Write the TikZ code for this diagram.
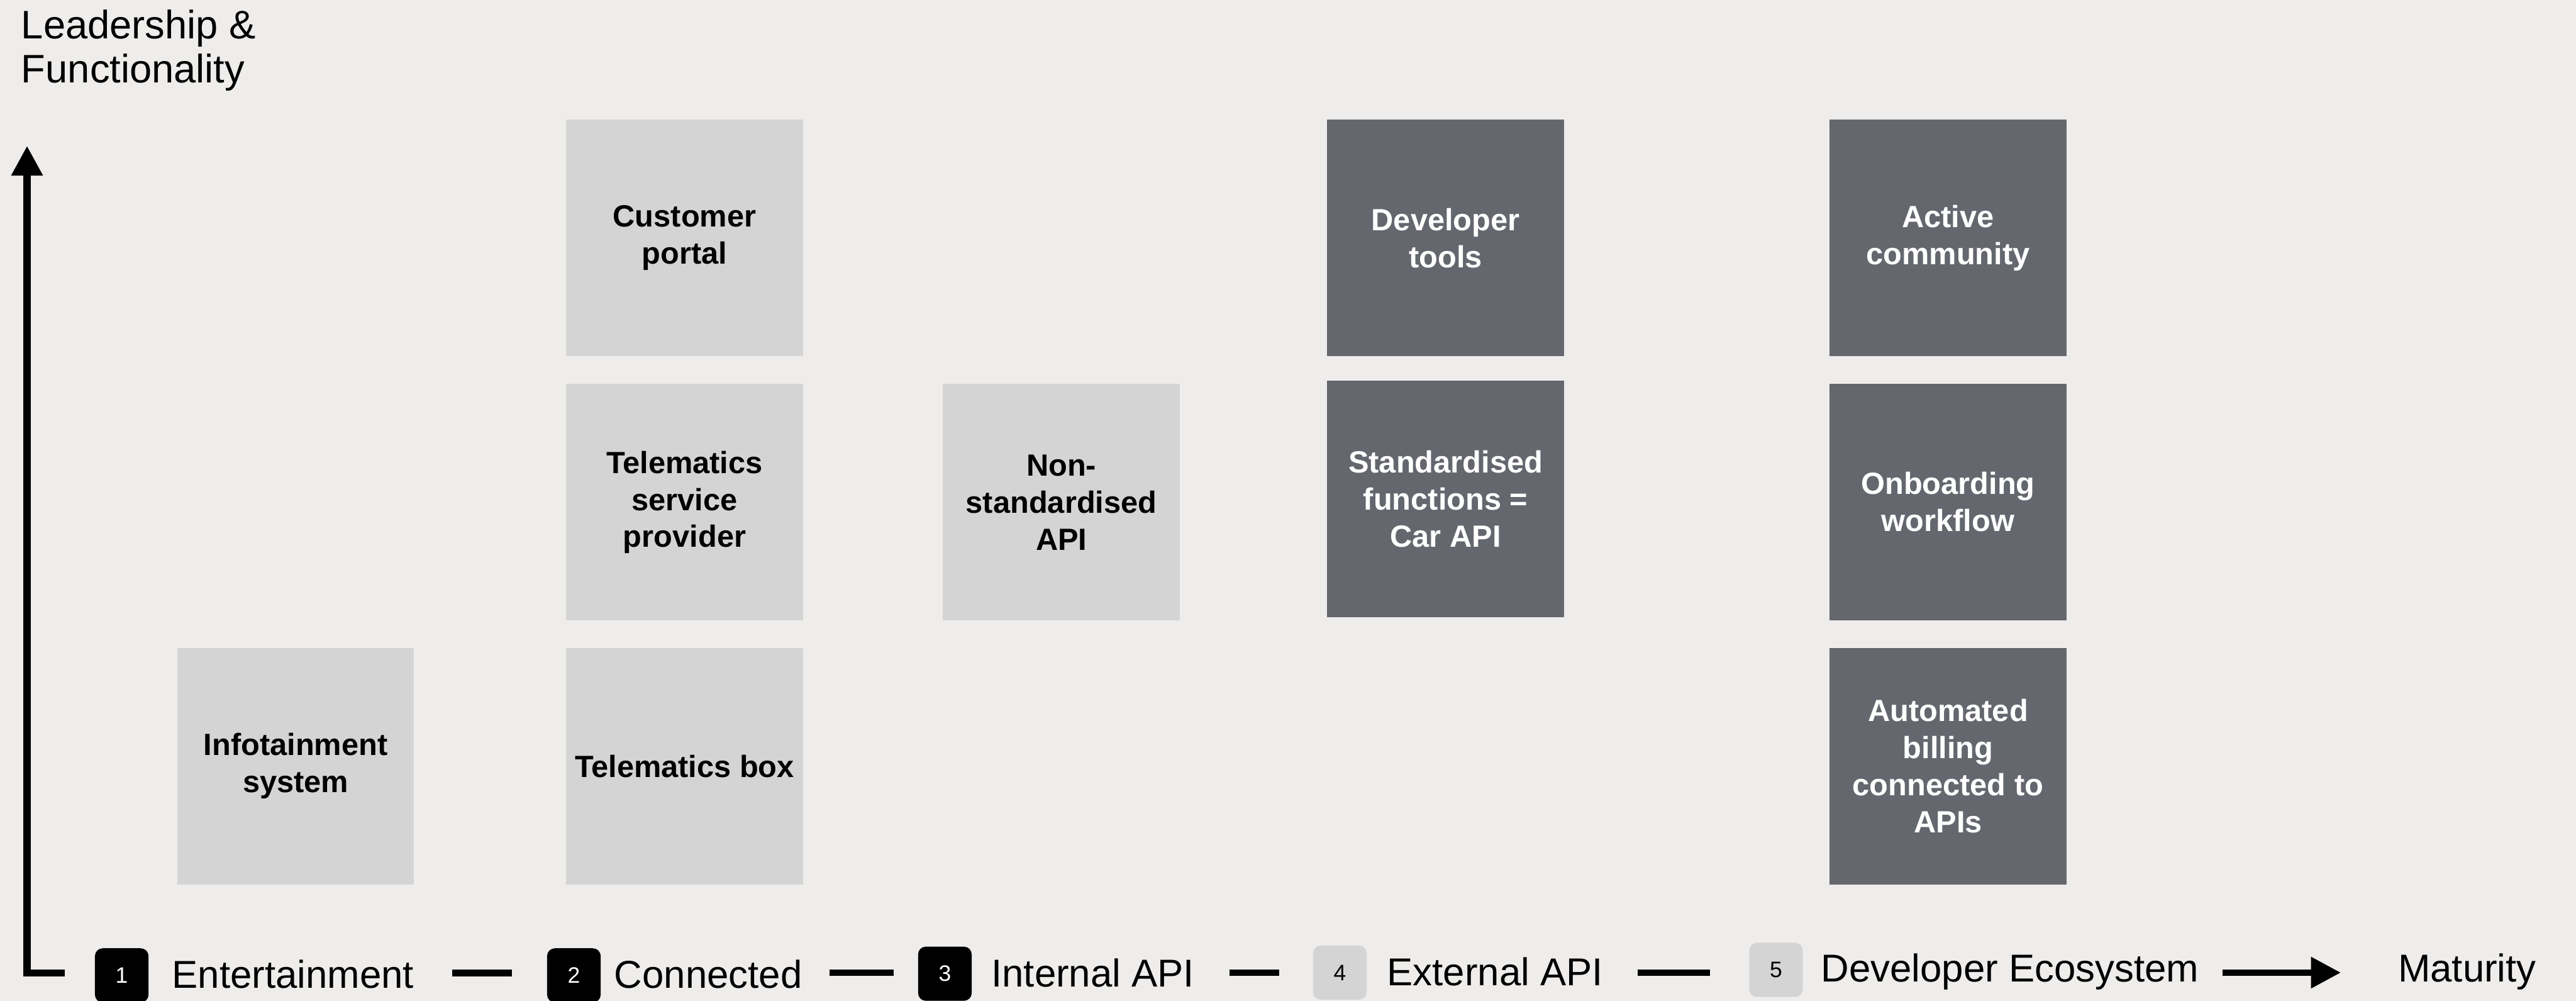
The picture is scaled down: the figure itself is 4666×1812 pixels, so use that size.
\documentclass[tikz,border=0pt]{standalone}
\usepackage{fontspec}
\setmainfont{Liberation Sans}
\usetikzlibrary{arrows.meta}
\definecolor{bg}{HTML}{EEEDEB}
\definecolor{lightbox}{HTML}{D4D4D4}
\definecolor{darkbox}{HTML}{64676E}
\begin{document}
\begin{tikzpicture}[x=0.01cm,y=-0.01cm,
  card/.style={minimum width=4.29cm, minimum height=4.28cm, inner sep=0pt, align=center, font=\fontsize{15.8}{19.1}\selectfont\bfseries},
  lightcard/.style={card, fill=lightbox, text=black},
  darkcard/.style={card, fill=darkbox, text=white},
  stagenum/.style={minimum width=0.97cm, minimum height=0.98cm, inner sep=0pt, rounded corners=0.14cm, font=\fontsize{11.5}{12}\selectfont},
  donenum/.style={stagenum, fill=black, text=white},
  todonum/.style={stagenum, fill=lightbox, text=black},
  stagelbl/.style={anchor=base west, inner sep=0pt, font=\fontsize{20}{24}\selectfont},
  axisline/.style={line width=0.13cm, line join=miter},
  seg/.style={line width=0.12cm},
  tip/.style={-{Triangle[width=0.54cm,length=0.54cm]}},
]
\fill[bg] (0,0) rectangle (4666,1812);
\useasboundingbox (0,0) rectangle (4666,1812);

% axis label
\node[anchor=north west, inner sep=0pt, align=left, font=\fontsize{20.5}{22.8}\selectfont] (ylabel) at (38,17) {Leadership \&\\Functionality};

% cards
\node[lightcard] (info) at (535.5,1387) {Infotainment\\system};
\node[lightcard] (tbox) at (1240,1387) {Telematics box};
\node[lightcard] (tsp) at (1240,909.5) {Telematics\\service\\provider};
\node[lightcard] (cport) at (1240,431) {Customer\\portal};
\node[lightcard] (nonstd) at (1922.5,909.5) {Non-\\standardised\\API};
\node[darkcard] (devtools) at (2618.5,431) {Developer\\tools};
\node[darkcard] (stdfn) at (2618.5,903) {Standardised\\functions =\\Car API};
\node[darkcard] (active) at (3528.5,431) {Active\\community};
\node[darkcard] (onboard) at (3528.5,909) {Onboarding\\workflow};
\node[darkcard] (billing) at (3528.5,1387) {Automated\\billing\\connected to\\APIs};

% axes
\coordinate (ytip) at (49,264);
\coordinate (origin) at (49,1762);
\coordinate (xend) at (117,1762);
\draw[axisline, tip] (xend) -- (origin) -- (ytip);

% stages
\node[donenum] (n1) at (220.5,1766) {1};
\node[stagelbl] (s1) at (311,1789) {Entertainment};
\node[donenum] (n2) at (1039.5,1766) {2};
\node[stagelbl] (s2) at (1112,1789) {Connected};
\node[donenum] (n3) at (1711.5,1763) {3};
\node[stagelbl] (s3) at (1795,1787) {Internal API};
\node[todonum] (n4) at (2427,1761) {4};
\node[stagelbl] (s4) at (2512,1784) {External API};
\node[todonum] (n5) at (3217,1756) {5};
\node[stagelbl] (s5) at (3298,1778) {Developer Ecosystem};
\node[stagelbl] (mat) at (4343,1778) {Maturity};

\coordinate (d1a) at (819,1761.5);
\coordinate (d1b) at (927,1761.5);
\coordinate (d2a) at (1502,1761);
\coordinate (d2b) at (1619,1761);
\coordinate (d3a) at (2227,1761);
\coordinate (d3b) at (2317,1761);
\coordinate (d4a) at (2966,1761);
\coordinate (d4b) at (3097,1761);
\coordinate (ma) at (4026,1761);
\coordinate (mb) at (4240,1761);
\draw[seg] (d1a) -- (d1b);
\draw[seg] (d2a) -- (d2b);
\draw[seg] (d3a) -- (d3b);
\draw[seg] (d4a) -- (d4b);
\draw[seg, tip] (ma) -- (mb);
\end{tikzpicture}
\end{document}
